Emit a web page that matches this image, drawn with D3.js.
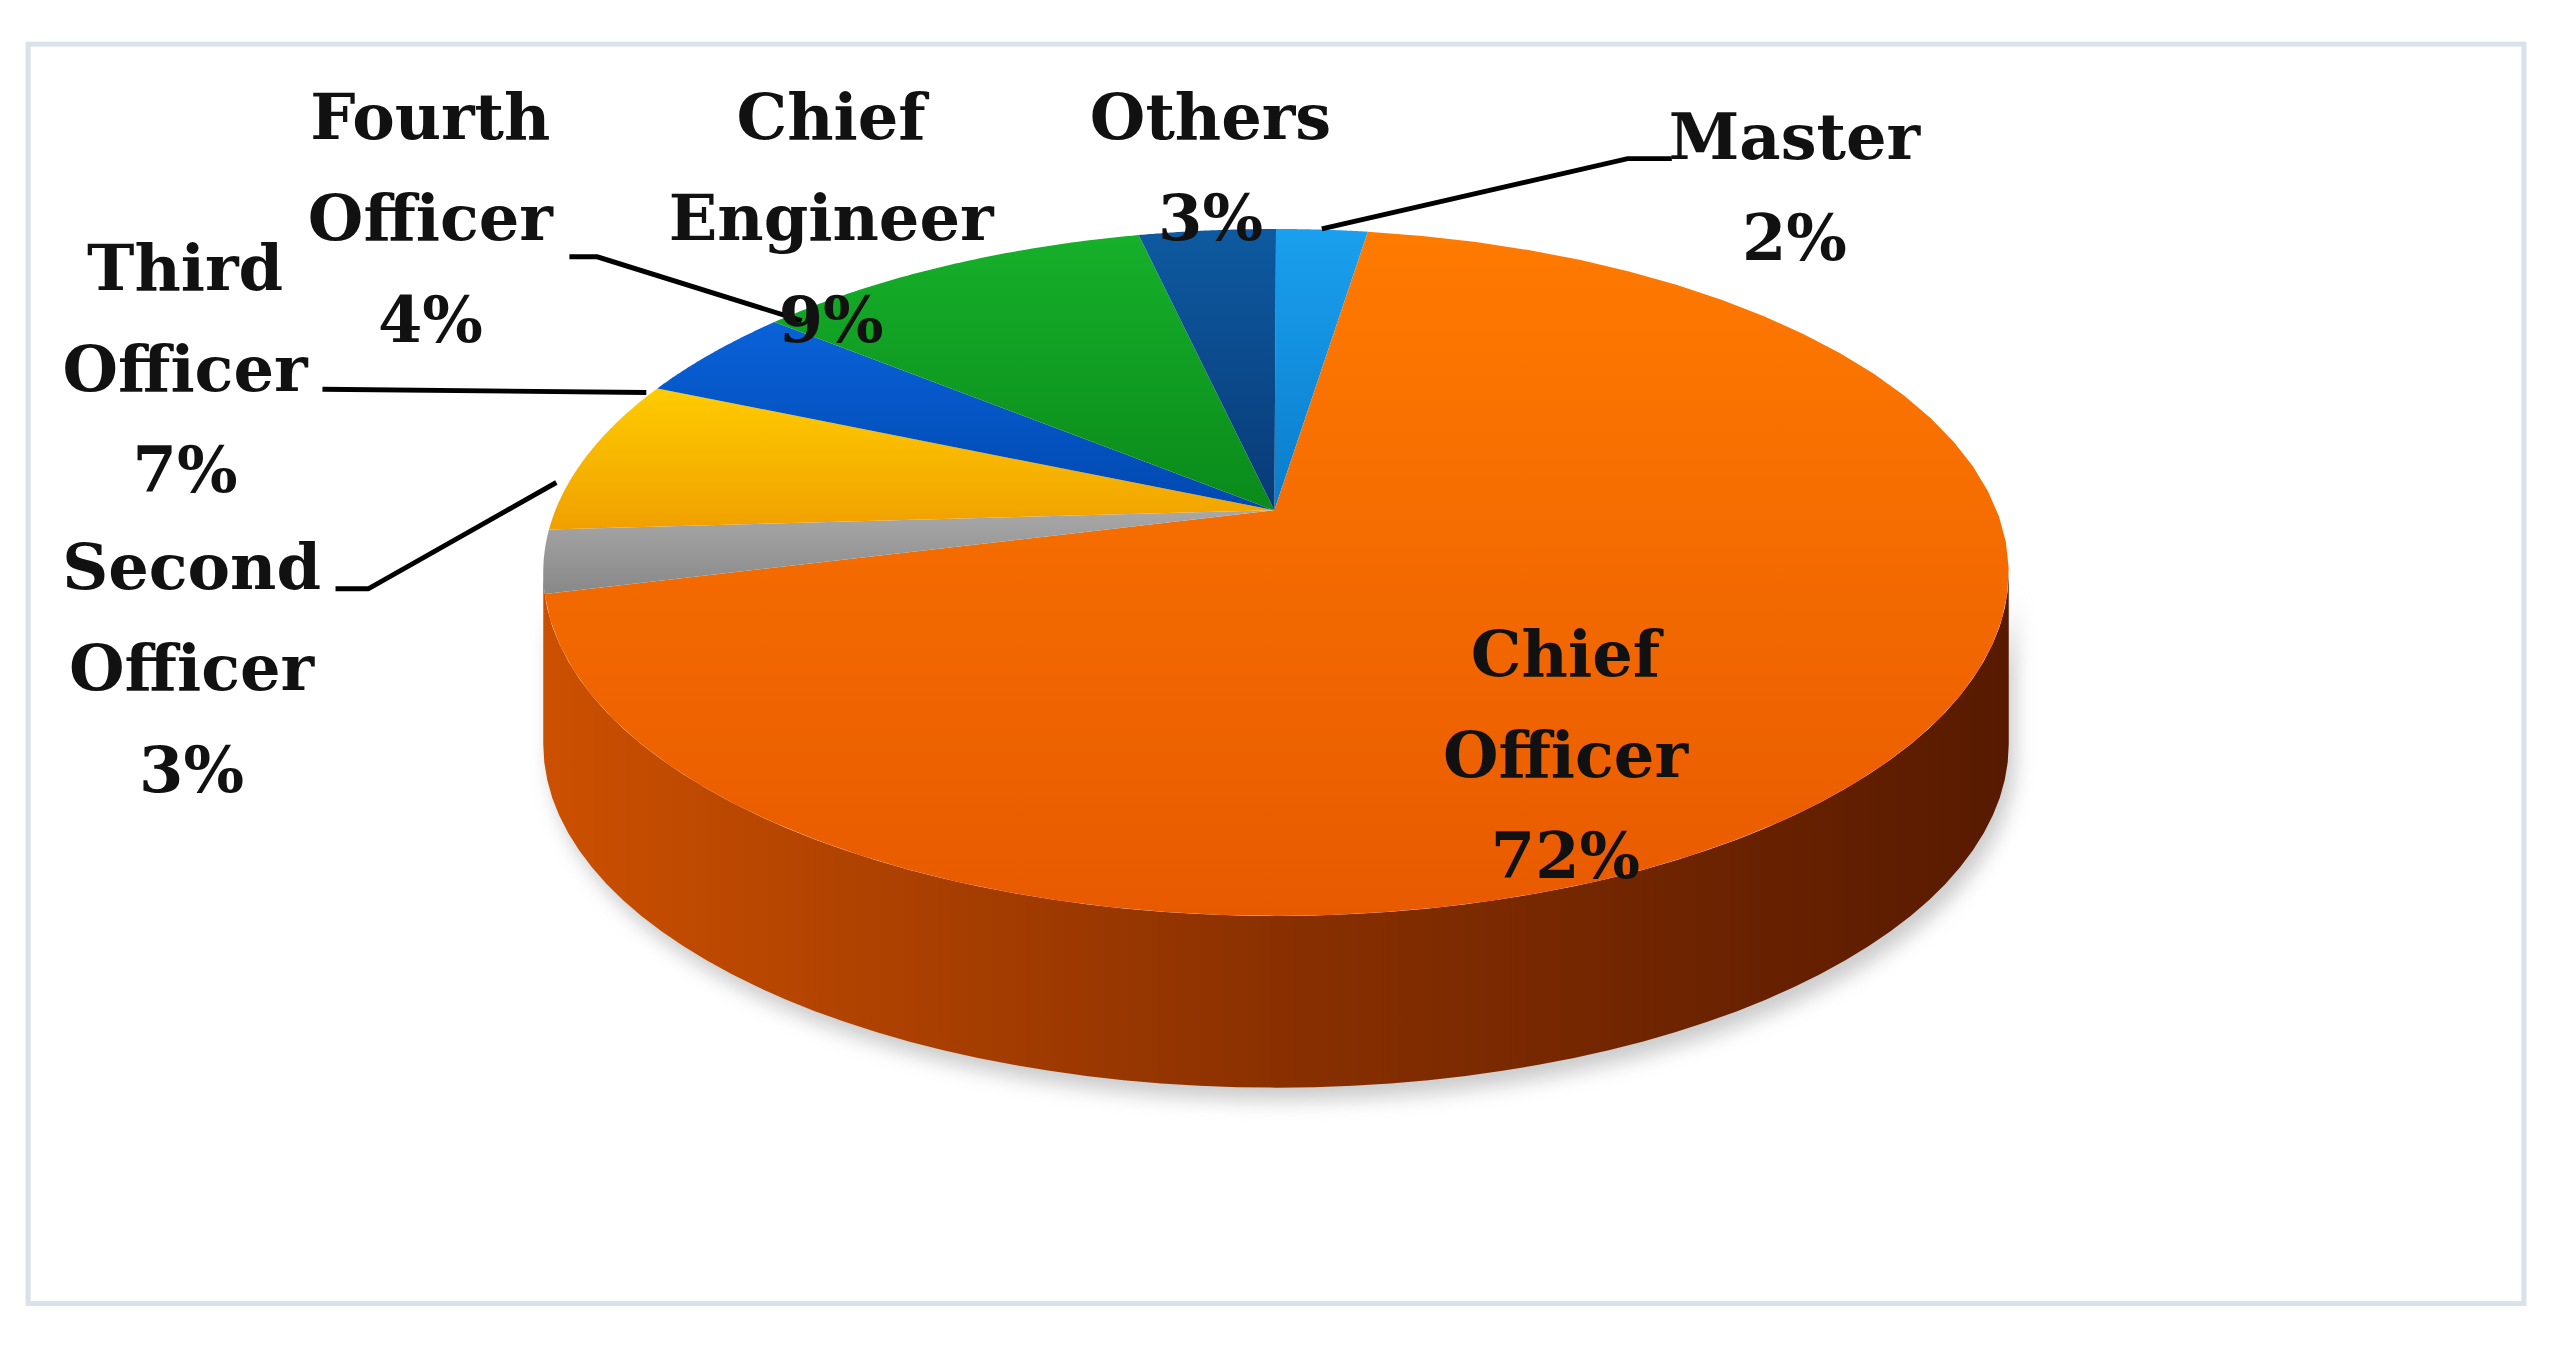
<!DOCTYPE html>
<html>
<head>
<meta charset="utf-8">
<script src="https://cdn.jsdelivr.net/npm/d3@7"></script>
<style>
  body { margin: 0; background: #fff; }
  text { font-family: "DejaVu Serif", serif; font-weight: bold; fill: #111; }
</style>
</head>
<body>
<svg id="chart" width="2552" height="1351" viewBox="0 0 1560 826"></svg>
<script>
// data, clockwise from the top
const categories = ['Master', 'Chief Officer', 'Second Officer', 'Third Officer', 'Fourth Officer', 'Chief Engineer', 'Others'];
const values = [2, 72, 3, 7, 4, 9, 3];
const topColors = ['#1aa0ee', '#ff7a00', '#a8a8a8', '#ffcc00', '#0a62d8', '#16b02a', '#0e5aa0'];
const botColors = ['#0a7ccc', '#e85a00', '#888888', '#f0a000', '#0048b0', '#0a8a1a', '#083a78'];
const labelLines = [['Master', '2%'], ['Chief', 'Officer', '72%'], ['Second', 'Officer', '3%'],
  ['Third', 'Officer', '7%'], ['Fourth', 'Officer', '4%'], ['Chief', 'Engineer', '9%'], ['Others', '3%']];

const svg = d3.select('#chart');
const cx = 780, cy = 350, rx = 448, ry = 210, depth = 105;
const apex = [779, 312];
const pt = (a, dy = 0) => [cx + rx * Math.sin(a), cy - ry * Math.cos(a) + dy];

const defs = svg.append('defs');
topColors.forEach((c, i) => {
  const g = defs.append('linearGradient').attr('id', 'g' + i)
    .attr('x1', 0).attr('y1', 0).attr('x2', 0).attr('y2', 1);
  g.append('stop').attr('offset', 0).attr('stop-color', c);
  g.append('stop').attr('offset', 1).attr('stop-color', botColors[i]);
});
const side = defs.append('linearGradient').attr('id', 'side');
side.append('stop').attr('offset', 0).attr('stop-color', '#cc5000');
side.append('stop').attr('offset', 0.5).attr('stop-color', '#8a3000');
side.append('stop').attr('offset', 1).attr('stop-color', '#571a00');
const shadow = defs.append('filter').attr('id', 'sh').attr('x', -0.1).attr('y', -0.1).attr('width', 1.2).attr('height', 1.3);
shadow.append('feGaussianBlur').attr('stdDeviation', 6);

svg.append('rect').attr('x', 17).attr('y', 27).attr('width', 1526).attr('height', 770)
  .attr('fill', '#fff').attr('stroke', '#d9e1ea').attr('stroke-width', 3);

const pie = d3.pie().sort(null).value(d => d)(values);
const line = d3.line();
const arcPts = (a0, a1, dy = 0) => d3.range(0, 61).map(k => pt(a0 + (a1 - a0) * k / 60, dy));

// shadow and side wall (front half)
const front = arcPts(Math.PI / 2, 3 * Math.PI / 2).concat(arcPts(3 * Math.PI / 2, Math.PI / 2, depth));
svg.append('path').attr('d', line(front.map(p => [p[0] + 4, p[1] + 8])) + 'Z')
  .attr('fill', '#999').attr('opacity', 0.5).attr('filter', 'url(#sh)');
svg.append('path').attr('d', line(front) + 'Z').attr('fill', 'url(#side)');

// top faces
svg.selectAll('path.slice').data(pie).join('path').attr('class', 'slice')
  .attr('d', d => line([apex].concat(arcPts(d.startAngle, d.endAngle))) + 'Z')
  .attr('fill', (d, i) => `url(#g${i})`);

// leader lines
const leaders = [
  [[1022, 97], [995, 97], [808, 140]],
  [[348, 157], [365, 157], [490, 196]],
  [[197, 238], [395, 240]],
  [[205, 360], [225, 360], [340, 295]]
];
svg.selectAll('path.lead').data(leaders).join('path').attr('class', 'lead')
  .attr('d', d => line(d)).attr('fill', 'none').attr('stroke', '#000').attr('stroke-width', 3);

// labels
const labelPos = [[1097, 97], [957, 413], [117, 360], [113, 177], [263, 85], [508, 85], [740, 85]];
labelLines.forEach((ls, i) => {
  const t = svg.append('text').attr('text-anchor', 'middle').attr('font-size', 39);
  ls.forEach((s, j) => t.append('tspan').attr('x', labelPos[i][0]).attr('y', labelPos[i][1] + j * 62).text(s));
});
</script>
</body>
</html>
